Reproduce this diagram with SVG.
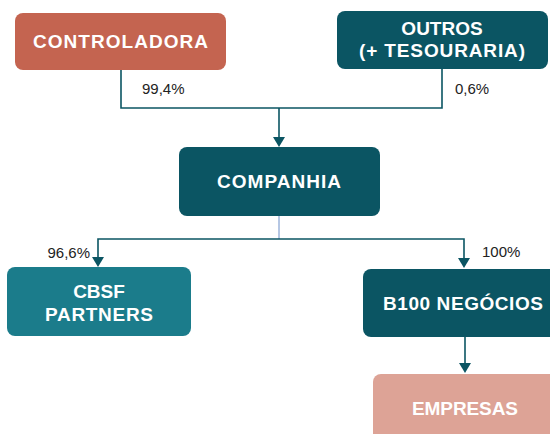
<svg xmlns="http://www.w3.org/2000/svg" width="550" height="434" viewBox="0 0 550 434">
<style>
.lbl{font-family:"Liberation Sans",Arial,sans-serif;font-size:19px;fill:#ffffff;text-anchor:middle;font-weight:bold}
.pct{font-family:"Liberation Sans",Arial,sans-serif;font-size:15px;fill:#222222}
.ln{fill:none;stroke:#0B5563;stroke-width:1.6}
.ah{fill:#0B5563}
</style>
<rect width="550" height="434" fill="#ffffff"/>
<g id="connectors">
<polyline class="ln" points="121,70 121,108 442,108 442,69"/>
<line class="ln" x1="279" y1="108" x2="279" y2="138" stroke-width="2.2"/>
<polygon class="ah" points="273,137 285,137 279,147"/>
<line x1="279" y1="216" x2="279" y2="239" stroke="#6C8FC8" stroke-width="1"/>
<polyline class="ln" points="98,259 98,239 464,239 464,259"/>
<polygon class="ah" points="92,257 104,257 98,267"/>
<polygon class="ah" points="458,258 470,258 464,268"/>
<line class="ln" x1="465" y1="337" x2="465" y2="365"/>
<polygon class="ah" points="459,363 471,363 465,373"/>
</g>
<g id="controladora">
<rect x="15" y="13" width="211" height="57" rx="8" fill="#C46450"/>
<text class="lbl" x="120.5" y="48" textLength="175" lengthAdjust="spacing">CONTROLADORA</text>
</g>
<g id="outros">
<rect x="337" y="11" width="211" height="58" rx="8" fill="#0B5563"/>
<text class="lbl" x="442" y="35">OUTROS</text>
<text class="lbl" x="442" y="57" textLength="166" lengthAdjust="spacing">(+ TESOURARIA)</text>
</g>
<g id="pct-labels">
<text class="pct" x="142" y="94">99,4%</text>
<text class="pct" x="455" y="94">0,6%</text>
<text class="pct" x="90" y="258" text-anchor="end">96,6%</text>
<text class="pct" x="482" y="257">100%</text>
</g>
<g id="companhia">
<rect x="179" y="147" width="201" height="69" rx="8" fill="#0B5563"/>
<text class="lbl" x="279" y="188" textLength="124" lengthAdjust="spacing">COMPANHIA</text>
</g>
<g id="cbsf">
<rect x="7" y="267" width="184" height="69" rx="8" fill="#1B7C8B"/>
<text class="lbl" x="99" y="298">CBSF</text>
<text class="lbl" x="99" y="321" textLength="108" lengthAdjust="spacing">PARTNERS</text>
</g>
<g id="b100">
<rect x="363" y="269" width="200" height="68" rx="8" fill="#0B5563"/>
<text class="lbl" x="463" y="310" textLength="160" lengthAdjust="spacing">B100 NEGÓCIOS</text>
</g>
<g id="empresas">
<rect x="373" y="374" width="190" height="80" rx="8" fill="#DDA396"/>
<text class="lbl" x="465" y="415" textLength="106" lengthAdjust="spacing">EMPRESAS</text>
</g>
</svg>
